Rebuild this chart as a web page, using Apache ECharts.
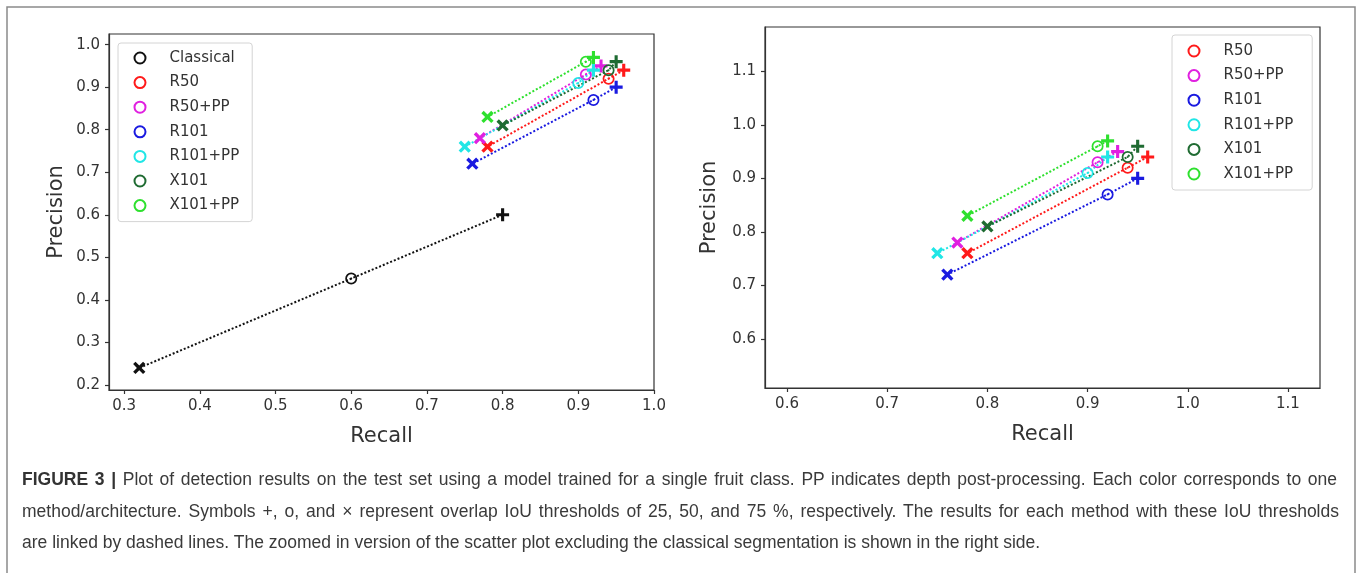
<!DOCTYPE html>
<html>
<head>
<meta charset="utf-8">
<script src="https://cdn.jsdelivr.net/npm/echarts@6/dist/echarts.min.js"></script>
<style>
html,body{margin:0;padding:0;background:#fff;}
#wrap{position:relative;width:1358px;height:573px;overflow:hidden;}
#chart{position:absolute;left:0;top:0;width:1358px;height:573px;}
.cap{position:absolute;left:22px;font-family:"Liberation Sans",Arial,sans-serif;font-size:17.5px;line-height:20px;color:#3a3a3a;white-space:nowrap;}
.cap.just{text-align:justify;text-align-last:justify;}
.cap b{color:#333;}
</style>
</head>
<body>
<div id="wrap">
<div id="chart"></div>
<div id="cap0" class="cap just"></div>
<div id="cap1" class="cap just"></div>
<div id="cap2" class="cap"></div>
</div>
<script>
// ---- data (order of points in each series: IoU 25 (+), IoU 50 (o), IoU 75 (x)) ----
const methods = ['Classical', 'R50', 'R50+PP', 'R101', 'R101+PP', 'X101', 'X101+PP'];
const colors = ['#111111', '#ff1a1a', '#e020e0', '#1a1ae0', '#20e6e6', '#1f6b32', '#2ee02e'];
const classicalRecall = [0.80, 0.60, 0.32];
const classicalPrecision = [0.60, 0.45, 0.24];
const r50Recall = [0.96, 0.94, 0.78];
const r50Precision = [0.94, 0.92, 0.76];
const r50ppRecall = [0.93, 0.91, 0.77];
const r50ppPrecision = [0.95, 0.93, 0.78];
const r101Recall = [0.95, 0.92, 0.76];
const r101Precision = [0.90, 0.87, 0.72];
const r101ppRecall = [0.92, 0.90, 0.75];
const r101ppPrecision = [0.94, 0.91, 0.76];
const x101Recall = [0.95, 0.94, 0.80];
const x101Precision = [0.96, 0.94, 0.81];
const x101ppRecall = [0.92, 0.91, 0.78];
const x101ppPrecision = [0.97, 0.96, 0.83];

const leftRecallTicks = [0.3, 0.4, 0.5, 0.6, 0.7, 0.8, 0.9, 1.0];
const leftPrecisionTicks = [0.2, 0.3, 0.4, 0.5, 0.6, 0.7, 0.8, 0.9, 1.0];
const rightRecallTicks = [0.6, 0.7, 0.8, 0.9, 1.0, 1.1];
const rightPrecisionTicks = [0.6, 0.7, 0.8, 0.9, 1.0, 1.1];

const captionPrefix = 'FIGURE 3 |';
const captionLines = [
  'Plot of detection results on the test set using a model trained for a single fruit class. PP indicates depth post-processing. Each color corresponds to one',
  'method/architecture. Symbols +, o, and \u00d7 represent overlap IoU thresholds of 25, 50, and 75 %, respectively. The results for each method with these IoU thresholds',
  'are linked by dashed lines. The zoomed in version of the scatter plot excluding the classical segmentation is shown in the right side.'
];

// ---- build ----
const recallSets = [classicalRecall, r50Recall, r50ppRecall, r101Recall, r101ppRecall, x101Recall, x101ppRecall];
const precisionSets = [classicalPrecision, r50Precision, r50ppPrecision, r101Precision, r101ppPrecision, x101Precision, x101ppPrecision];

const PLUS = 'path://M3.8,0H6.2V3.8H10V6.2H6.2V10H3.8V6.2H0V3.8H3.8Z';
const RING = 'path://M0,10A10,10 0 1,0 20,10A10,10 0 1,0 0,10Z M2.9,10A7.1,7.1 0 1,1 17.1,10A7.1,7.1 0 1,1 2.9,10Z M8.3,10A1.7,1.7 0 1,0 11.7,10A1.7,1.7 0 1,0 8.3,10Z';
const FONT = 'DejaVu Sans';

function pointsFor(i) {
  const c = colors[i];
  const r = recallSets[i], p = precisionSets[i];
  return [
    {value: [r[0], p[0]], symbol: PLUS, symbolSize: 13, itemStyle: {color: c, borderWidth: 0}},
    {value: [r[1], p[1]], symbol: RING, symbolSize: 12, itemStyle: {color: c, borderWidth: 0}},
    {value: [r[2], p[2]], symbol: PLUS, symbolSize: 14, symbolRotate: 45, itemStyle: {color: c, borderWidth: 0}}
  ];
}

const series = [];
methods.forEach((m, i) => {
  const base = {
    name: m, type: 'line', color: colors[i],
    showSymbol: true, animation: false, silent: true,
    lineStyle: {type: 'dotted', width: 2, color: colors[i]},
    emphasis: {disabled: true},
    data: pointsFor(i)
  };
  series.push(Object.assign({}, base, {xAxisIndex: 0, yAxisIndex: 0}));
  if (i > 0) series.push(Object.assign({}, base, {xAxisIndex: 1, yAxisIndex: 1, data: pointsFor(i)}));
});

const fmt = v => Number(v).toFixed(1);
function axis(opts, ticks) {
  return Object.assign({
    type: 'value',
    nameLocation: 'middle',
    nameTextStyle: {fontFamily: FONT, fontSize: 21, color: '#333'},
    axisLine: {show: true, lineStyle: {color: '#333', width: 1.2}},
    axisTick: {show: true, inside: false, length: 4, lineStyle: {color: '#333', width: 1.2}, customValues: ticks},
    axisLabel: {fontFamily: FONT, fontSize: 15, color: '#333', margin: 9, formatter: fmt, customValues: ticks},
    splitLine: {show: false}
  }, opts);
}

const xAxes = [
  axis({gridIndex: 0, name: 'Recall', nameGap: 36, min: 0.28, max: 1.0}, leftRecallTicks),
  axis({gridIndex: 1, name: 'Recall', nameGap: 36, min: 0.578, max: 1.132}, rightRecallTicks)
];
const yAxes = [
  axis({gridIndex: 0, name: 'Precision', nameGap: 42, min: 0.188, max: 1.025}, leftPrecisionTicks),
  axis({gridIndex: 1, name: 'Precision', nameGap: 45, min: 0.508, max: 1.183}, rightPrecisionTicks)
];

function legend(names, left, top, padding) {
  return {
    orient: 'vertical', left: left, top: top, padding: padding,
    itemWidth: 11, itemHeight: 11, itemGap: 8.6,
    backgroundColor: '#fff', borderColor: '#d4d4d4', borderWidth: 1, borderRadius: 3,
    selectedMode: false,
    textStyle: {fontFamily: FONT, fontSize: 15, color: '#333', lineHeight: 16, padding: [0, 0, 0, 19]},
    data: names.map(n => ({name: n, icon: 'emptyCircle'}))
  };
}

const chart = echarts.init(document.getElementById('chart'), null, {renderer: 'canvas'});
chart.setOption({
  backgroundColor: '#fff',
  animation: false,
  grid: [
    {left: 109, top: 34, width: 545, height: 356, show: true, borderColor: '#333', borderWidth: 1.2},
    {left: 765, top: 27, width: 555, height: 361, show: true, borderColor: '#333', borderWidth: 1.2}
  ],
  xAxis: xAxes,
  yAxis: yAxes,
  legend: [
    legend(methods, 118, 43, [7, 13, 8, 15.5]),
    legend(methods.slice(1), 1172, 35, [8, 19, 8, 15.5])
  ],
  series: series,
  graphic: [
    {type: 'rect', silent: true, shape: {x: 7, y: 7, width: 1348, height: 600},
     style: {fill: 'none', stroke: '#8a8a8a', lineWidth: 1.5}}
  ]
});

// ---- caption (justified paragraph: first two lines fill the width, last line natural) ----
const capTargets = [1315, 1317];
const capTops = [469, 501, 532];
const capEls = [document.getElementById('cap0'), document.getElementById('cap1'), document.getElementById('cap2')];
capEls[0].innerHTML = '<b>' + captionPrefix + '</b> ' + captionLines[0];
capEls[1].textContent = captionLines[1];
capEls[2].textContent = captionLines[2];
capEls.forEach((el, i) => {
  el.style.top = capTops[i] + 'px';
  if (i < 2) el.style.width = capTargets[i] + 'px';
});
</script>
</body>
</html>
